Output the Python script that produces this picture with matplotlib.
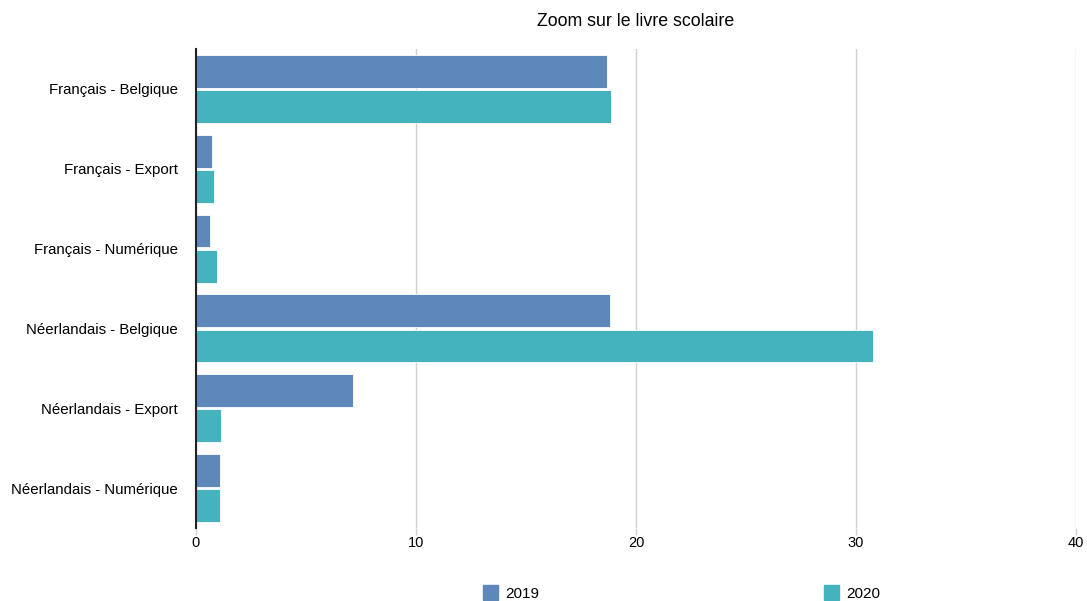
import matplotlib
matplotlib.use("Agg")
import matplotlib.pyplot as plt
import numpy as np
from matplotlib.patches import Patch

plt.rcParams['font.family'] = ['Liberation Sans', 'DejaVu Sans']

categories = ["Français - Belgique", "Français - Export", "Français - Numérique",
              "Néerlandais - Belgique", "Néerlandais - Export", "Néerlandais - Numérique"]
series_names = ["2019", "2020"]
values_2019 = [18.68, 0.73, 0.62, 18.82, 7.15, 1.08]
values_2020 = [18.88, 0.80, 0.94, 30.77, 1.14, 1.08]
x_ticks = [0, 10, 20, 30, 40]

c2019 = "#5E87BA"
c2020 = "#45B3BE"

fig = plt.figure(figsize=(10.87, 6.01), dpi=100)
ax = fig.add_axes([196/1087, 1-528/601, 880/1087, 479/601])

y = np.arange(len(categories))
h = 0.41
off = 0.22
ax.barh(y - off, values_2019, height=h, color=c2019, edgecolor="white", linewidth=0.6, zorder=3)
ax.barh(y + off, values_2020, height=h, color=c2020, edgecolor="white", linewidth=0.6, zorder=3)

ax.set_ylim(len(categories) - 0.5, -0.5)
ax.set_xlim(0, 40)
ax.set_yticks(y)
ax.set_yticklabels(categories, fontsize=10.8)
for lbl in ax.get_yticklabels():
    lbl.set_va("center_baseline")
ax.set_xticks(x_ticks)
ax.set_xticklabels([str(t) for t in x_ticks], fontsize=10.5)
ax.tick_params(axis='y', length=0, pad=13)
ax.tick_params(axis='x', length=5, color="#d0d0d0", pad=1, width=1)
ax.xaxis.get_major_ticks()[0].tick1line.set_color("black")

ax.grid(axis='x', color="#d0d0d0", linewidth=1, zorder=0)
for s in ["top", "right", "bottom"]:
    ax.spines[s].set_visible(False)
ax.spines["left"].set_color("#222222")
ax.spines["left"].set_linewidth(1.5)
ax.spines["left"].set_zorder(4)

fig.text(636/1087, 1-22/601, "Zoom sur le livre scolaire", ha="center", va="center", fontsize=12.8)

fig.legend(handles=[Patch(color=c2019, label=series_names[0])], loc="center left",
           bbox_to_anchor=(469/1087, 1-593/601), frameon=False, fontsize=11,
           handlelength=1.0, handleheight=1.1, handletextpad=0.5)
fig.legend(handles=[Patch(color=c2020, label=series_names[1])], loc="center left",
           bbox_to_anchor=(810/1087, 1-593/601), frameon=False, fontsize=11,
           handlelength=1.0, handleheight=1.1, handletextpad=0.5)

fig.savefig("out.png", dpi=100)
